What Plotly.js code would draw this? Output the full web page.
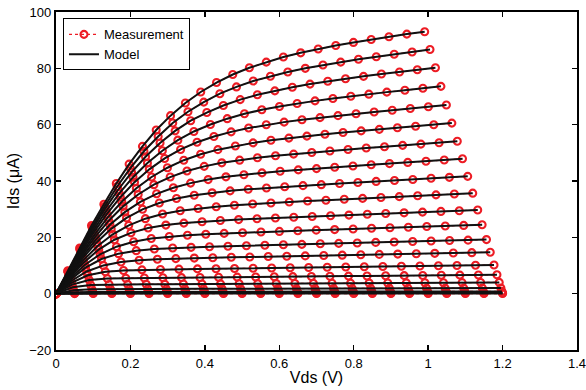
<!DOCTYPE html>
<html><head><meta charset="utf-8">
<script src="https://cdn.plot.ly/plotly-3.0.1.min.js"></script>
<style>html,body{margin:0;padding:0;background:#fff}#chart{width:586px;height:390px}</style>
</head><body><div id="chart"></div>
<script>
const xTickVals=[0,0.2,0.4,0.6,0.8,1,1.2,1.4];
const xTickText=['0','0.2','0.4','0.6','0.8','1','1.2','1.4'];
const yTickVals=[-20,0,20,40,60,80,100];
const yTickText=['\u221220','0','20','40','60','80','100'];

const vdsApplied=[0,0.05,0.1,0.15,0.2,0.25,0.3,0.35,0.4,0.45,0.5,0.55,0.6,0.65,0.7,0.75,0.8,0.85,0.9,0.95,1,1.05,1.1,1.15,1.2];

const vds01=[0,0.0317,0.0636,0.0955,0.1286,0.162,0.1965,0.2323,0.2693,0.3078,0.3477,0.3889,0.4314,0.475,0.5196,0.565,0.611,0.6576,0.7046,0.7518,0.7993,0.847,0.8948,0.9427,0.9907];
const ids01=[0,8.15,16.2,24.2,31.75,39.1,46.0,52.3,58.1,63.2,67.7,71.6,74.95,77.8,80.2,82.2,84.0,85.5,86.85,88.1,89.2,90.25,91.2,92.15,93.0];

const vds02=[0,0.0321,0.0644,0.097,0.1304,0.1644,0.1998,0.2363,0.2745,0.3137,0.3546,0.397,0.4403,0.4849,0.530,0.5762,0.6229,0.6699,0.7173,0.765,0.8128,0.8607,0.9088,0.9569,1.005];
const ids02=[0,7.95,15.8,23.55,30.95,38.05,44.55,50.55,55.8,60.6,64.6,68.0,71.0,73.4,75.5,77.2,78.7,80.0,81.2,82.2,83.2,84.1,85.0,85.8,86.7];

const vds03=[0,0.0325,0.0651,0.0982,0.132,0.167,0.203,0.2406,0.2796,0.320,0.3619,0.4053,0.4497,0.495,0.5412,0.588,0.635,0.6826,0.7303,0.778,0.8264,0.8745,0.923,0.971,1.0196];
const ids03=[0,7.76,15.5,23.0,30.2,36.9,43.1,48.6,53.5,57.8,61.4,64.3,66.8,68.9,70.6,72.0,73.3,74.4,75.4,76.3,77.15,78.0,78.7,79.5,80.2];

const vds04=[0,0.033,0.066,0.0997,0.1342,0.17,0.207,0.2457,0.2858,0.3274,0.3705,0.4149,0.4602,0.5064,0.5531,0.6005,0.648,0.696,0.7441,0.7922,0.8407,0.889,0.9375,0.9859,1.0343];
const ids04=[0,7.58,15.1,22.35,29.23,35.58,41.35,46.38,50.75,54.5,57.58,60.05,62.13,63.85,65.28,66.45,67.53,68.45,69.3,70.1,70.83,71.55,72.23,72.93,73.6];

const vds05=[0,0.0334,0.0669,0.1012,0.1364,0.173,0.211,0.2507,0.292,0.3348,0.379,0.4244,0.4707,0.5177,0.565,0.613,0.661,0.7094,0.7578,0.8063,0.8549,0.9035,0.952,1.0007,1.049];
const ids05=[0,7.4,14.7,21.7,28.25,34.25,39.6,44.15,48.0,51.2,53.75,55.8,57.45,58.8,59.95,60.9,61.75,62.5,63.2,63.9,64.5,65.1,65.75,66.35,67.0];

const vds06=[0,0.0339,0.0681,0.1031,0.1391,0.1767,0.2159,0.2568,0.2994,0.3434,0.3887,0.435,0.482,0.5296,0.5775,0.6258,0.6742,0.7227,0.7713,0.82,0.8688,0.9175,0.9663,1.0151,1.0637];
const ids06=[0,7.15,14.2,20.88,27.08,32.63,37.4,41.43,44.7,47.38,49.48,51.13,52.43,53.53,54.45,55.23,55.93,56.58,57.2,57.8,58.33,58.88,59.43,59.98,60.55];

const vds07=[0,0.0344,0.0692,0.1049,0.1417,0.1803,0.2208,0.2629,0.3068,0.352,0.3983,0.4455,0.4933,0.5414,0.5899,0.6385,0.6873,0.736,0.7848,0.8337,0.8827,0.9315,0.9805,1.0294,1.0783];
const ids07=[0,6.9,13.7,20.05,25.9,31.0,35.2,38.7,41.4,43.55,45.2,46.45,47.4,48.25,48.95,49.55,50.1,50.65,51.2,51.7,52.15,52.65,53.1,53.6,54.1];

const vds08=[0,0.035,0.0705,0.107,0.145,0.1849,0.2267,0.2703,0.3154,0.3617,0.4089,0.4567,0.505,0.5535,0.6023,0.6511,0.7001,0.749,0.798,0.847,0.8962,0.9452,0.9942,1.0433,1.0923];
const ids08=[0,6.65,13.15,19.13,24.45,28.95,32.58,35.45,37.6,39.25,40.5,41.48,42.23,42.88,43.45,43.95,44.4,44.88,45.33,45.78,46.18,46.6,47.03,47.45,47.88];

const vds09=[0,0.0356,0.0717,0.109,0.1483,0.1895,0.2326,0.2776,0.3239,0.3714,0.4195,0.4679,0.5166,0.5656,0.6146,0.6637,0.7129,0.762,0.8112,0.8603,0.9096,0.9588,1.0079,1.0571,1.1063];
const ids09=[0,6.4,12.6,18.2,23.0,26.9,29.95,32.2,33.8,34.95,35.8,36.5,37.05,37.5,37.95,38.35,38.7,39.1,39.45,39.85,40.2,40.55,40.95,41.3,41.65];

const vds10=[0,0.0363,0.0734,0.1119,0.1526,0.1955,0.2401,0.2864,0.3338,0.382,0.4306,0.4794,0.5284,0.5776,0.6268,0.6761,0.7254,0.7746,0.8239,0.8732,0.9225,0.9719,1.0211,1.0704,1.1198];
const ids10=[0,6.08,11.85,16.93,21.08,24.25,26.63,28.28,29.43,30.25,30.88,31.4,31.83,32.18,32.55,32.88,33.18,33.5,33.83,34.15,34.45,34.75,35.08,35.38,35.68];

const vds11=[0,0.037,0.075,0.1148,0.1569,0.2014,0.2476,0.2952,0.3436,0.3925,0.4416,0.4908,0.5402,0.5896,0.6389,0.6884,0.7378,0.7872,0.8366,0.886,0.9354,0.9849,1.0343,1.0837,1.1332];
const ids11=[0,5.76,11.1,15.65,19.15,21.6,23.3,24.35,25.05,25.55,25.95,26.3,26.6,26.85,27.15,27.4,27.65,27.9,28.2,28.45,28.7,28.95,29.2,29.45,29.7];

const vds12=[0,0.0379,0.0771,0.1186,0.1625,0.2086,0.256,0.3044,0.3533,0.4025,0.4519,0.5013,0.5508,0.6003,0.6498,0.6993,0.7488,0.7984,0.8479,0.8974,0.9469,0.9964,1.046,1.0955,1.145];
const ids12=[0,5.37,10.17,13.98,16.68,18.44,19.58,20.28,20.75,21.1,21.4,21.65,21.9,22.1,22.33,22.55,22.75,22.95,23.2,23.4,23.6,23.83,24.03,24.23,24.45];

const vds13=[0,0.0388,0.0792,0.1223,0.168,0.2157,0.2643,0.3135,0.363,0.4125,0.4621,0.5117,0.5613,0.611,0.6606,0.7102,0.7598,0.8095,0.8591,0.9087,0.9584,1.0079,1.0576,1.1073,1.1568];
const ids13=[0,4.97,9.24,12.3,14.2,15.27,15.85,16.2,16.45,16.65,16.85,17.0,17.2,17.35,17.5,17.7,17.85,18.0,18.2,18.35,18.5,18.7,18.85,19.0,19.2];

const vds14=[0,0.0401,0.0823,0.1275,0.1747,0.2234,0.2725,0.322,0.3716,0.4213,0.471,0.5207,0.5704,0.6202,0.6698,0.7195,0.7692,0.819,0.8687,0.9184,0.9682,1.0178,1.0676,1.1173,1.1669];
const ids14=[0,4.42,7.88,10.03,11.23,11.86,12.23,12.45,12.63,12.76,12.91,13.02,13.17,13.29,13.41,13.55,13.67,13.79,13.94,14.05,14.17,14.32,14.44,14.56,14.7];

const vds15=[0,0.0413,0.0854,0.1326,0.1814,0.231,0.2807,0.3304,0.3802,0.430,0.4798,0.5297,0.5795,0.6293,0.679,0.7288,0.7786,0.8284,0.8783,0.9281,0.9779,1.0277,1.0775,1.1273,1.177];
const ids15=[0,3.87,6.51,7.75,8.25,8.45,8.6,8.7,8.8,8.87,8.96,9.04,9.13,9.22,9.31,9.4,9.49,9.58,9.67,9.75,9.84,9.93,10.02,10.11,10.2];

const vds16=[0,0.0428,0.0891,0.138,0.1876,0.2374,0.2873,0.3372,0.387,0.4369,0.4868,0.5366,0.5865,0.6364,0.6863,0.7361,0.786,0.8358,0.8857,0.9356,0.9855,1.0353,1.0852,1.1351,1.1849];
const ids16=[0,3.2,4.84,5.35,5.5,5.58,5.65,5.7,5.76,5.82,5.88,5.94,6.0,6.05,6.11,6.17,6.23,6.29,6.35,6.4,6.46,6.52,6.58,6.64,6.7];

const vds17=[0,0.0449,0.0931,0.1427,0.1926,0.2425,0.2924,0.3423,0.3923,0.4422,0.4921,0.542,0.5919,0.6419,0.6918,0.7417,0.7916,0.8415,0.8915,0.9414,0.9913,1.0412,1.0912,1.1411,1.191];
const ids17=[0,2.28,3.08,3.25,3.3,3.34,3.37,3.41,3.44,3.48,3.51,3.55,3.58,3.62,3.65,3.69,3.72,3.76,3.79,3.83,3.86,3.9,3.93,3.97,4.0];

const vds18=[0,0.0473,0.0965,0.1464,0.1963,0.2462,0.2962,0.3462,0.3961,0.4461,0.4961,0.546,0.596,0.646,0.6959,0.7459,0.7958,0.8458,0.8957,0.9457,0.9957,1.0456,1.0956,1.1455,1.1955];
const ids18=[0,1.18,1.55,1.62,1.65,1.67,1.68,1.70,1.72,1.73,1.75,1.77,1.79,1.80,1.82,1.84,1.86,1.87,1.89,1.91,1.93,1.94,1.96,1.98,2.0];

const vds19=[0,0.0489,0.0986,0.1485,0.1985,0.2485,0.2985,0.3485,0.3984,0.4484,0.4984,0.5484,0.5984,0.6484,0.6984,0.7483,0.7983,0.8483,0.8983,0.9483,0.9983,1.0482,1.0982,1.1482,1.1982];
const ids19=[0,0.48,0.62,0.65,0.66,0.67,0.675,0.682,0.689,0.696,0.703,0.71,0.717,0.724,0.73,0.737,0.744,0.751,0.758,0.765,0.772,0.779,0.786,0.793,0.8];

const ids20=[0,0.15,0.195,0.205,0.209,0.211,0.213,0.215,0.218,0.22,0.222,0.224,0.226,0.229,0.231,0.233,0.235,0.237,0.24,0.242,0.244,0.246,0.248,0.251,0.253];
const ids21=[0,0.03,0.039,0.041,0.042,0.042,0.043,0.043,0.044,0.044,0.044,0.045,0.045,0.046,0.046,0.047,0.047,0.047,0.048,0.048,0.049,0.049,0.05,0.05,0.05];

const curves=[[vds01,ids01],[vds02,ids02],[vds03,ids03],[vds04,ids04],[vds05,ids05],[vds06,ids06],[vds07,ids07],[vds08,ids08],[vds09,ids09],[vds10,ids10],[vds11,ids11],[vds12,ids12],[vds13,ids13],[vds14,ids14],[vds15,ids15],[vds16,ids16],[vds17,ids17],[vds18,ids18],[vds19,ids19],[vdsApplied,ids20],[vdsApplied,ids21]];

const red='#ed1c24';
const traces=[];
curves.forEach(function(c,i){
  traces.push({x:c[0],y:c[1],type:'scatter',mode:'lines+markers',name:'Measurement',legendgroup:'meas',showlegend:i===0,
    line:{color:red,dash:'dot',width:1.2},
    marker:{symbol:'circle-open',size:7,color:red,line:{width:2.1,color:red}},hoverinfo:'skip'});
});
curves.forEach(function(c,i){
  traces.push({x:c[0],y:c[1],type:'scatter',mode:'lines',name:'Model',legendgroup:'model',showlegend:i===0,
    line:{color:'#111111',width:2},hoverinfo:'skip'});
});

const axisCommon={ticks:'inside',ticklen:5,tickwidth:1.5,tickcolor:'#000',showline:true,linewidth:2.2,linecolor:'#000',
  mirror:'ticks',showgrid:false,zeroline:false,automargin:false,tickmode:'array',ticklabeloverflow:'allow'};

const layout={width:586,height:390,margin:{l:56,r:9,t:12,b:40},paper_bgcolor:'#fff',plot_bgcolor:'#fff',
  font:{family:'Liberation Sans, Arial, sans-serif',size:13,color:'#000'},
  xaxis:Object.assign({range:[0,1.4000001],tickvals:xTickVals,ticktext:xTickText,title:{text:'Vds (V)',standoff:2}},axisCommon),
  yaxis:Object.assign({range:[-20,100],tickvals:yTickVals,ticktext:yTickText,title:{text:'Ids (μA)',standoff:6}},axisCommon),
  showlegend:true,
  legend:{x:0.0134,y:0.981,xanchor:'left',yanchor:'top',bgcolor:'#fff',bordercolor:'#000',borderwidth:1,
    font:{size:13},traceorder:'normal',tracegroupgap:0}
};
Plotly.newPlot('chart',traces,layout,{displayModeBar:false,staticPlot:true});
</script></body></html>
